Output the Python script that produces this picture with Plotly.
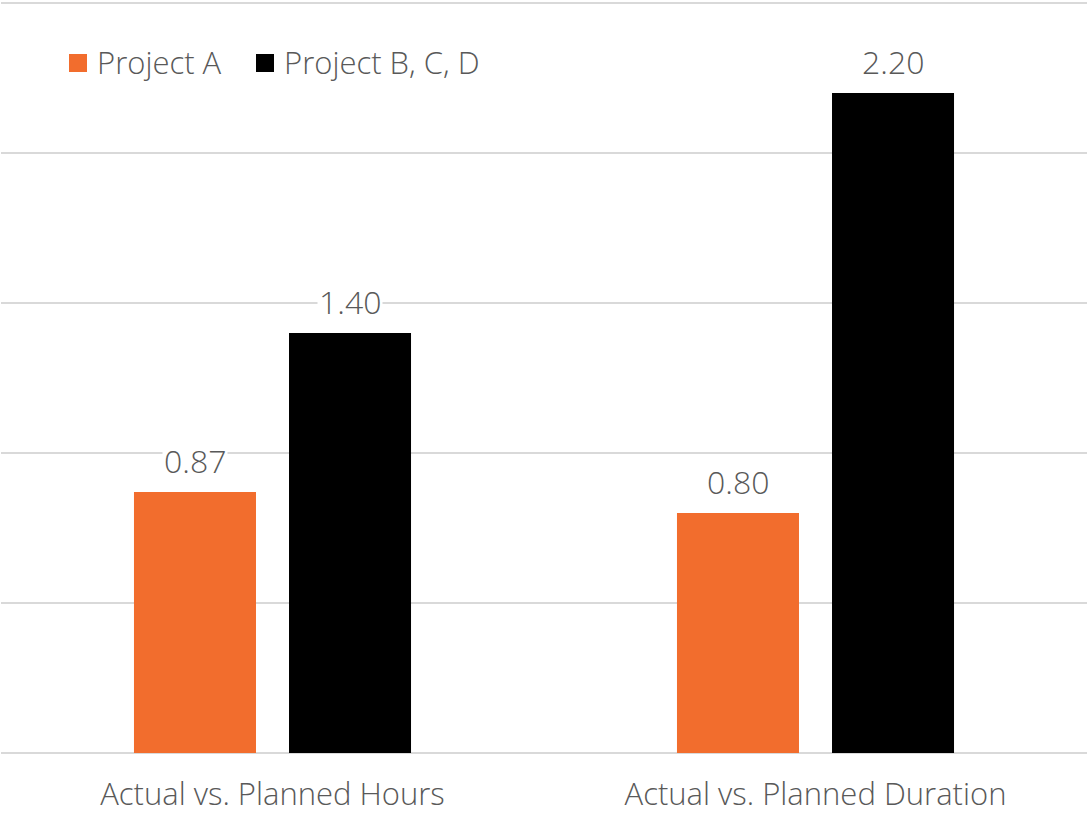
import plotly.graph_objects as go

categories = ["Actual vs. Planned Hours", "Actual vs. Planned Duration"]
series_names = ["Project A", "Project B, C, D"]
project_a = [0.87, 0.80]
project_bcd = [1.40, 2.20]
colors = ["#F26D2D", "#000000"]

FONT = "Open Sans"
TEXT_COLOR = "#595959"

W, H = 1089, 814
MARGIN = dict(l=1, r=2, t=0, b=61)
PLOT_W = W - MARGIN["l"] - MARGIN["r"]
PLOT_H = H - MARGIN["t"] - MARGIN["b"]


def px_x(px):
    return (px - MARGIN["l"]) / PLOT_W


def px_y(py):
    return (PLOT_H + MARGIN["t"] - py) / PLOT_H


fig = go.Figure()

for name, vals, col in zip(series_names, [project_a, project_bcd], colors):
    fig.add_trace(go.Bar(
        x=categories, y=vals, name=name, marker=dict(color=col, line=dict(width=0)),
        showlegend=False, hoverinfo="skip",
    ))

# value labels on a white box, offset by bar index within the group
offsets = [-0.5, 0.5]
for k, vals in enumerate([project_a, project_bcd]):
    for i, v in enumerate(vals):
        fig.add_annotation(
            x=i, y=v, xref="x", yref="y", text=f"{v:.2f}",
            xshift=offsets[k] * 155, yshift=32, yanchor="middle",
            showarrow=False, bgcolor="white",
            font=dict(family=FONT, size=32, color=TEXT_COLOR, weight=300),
        )

# legend row: 18px colour swatch followed by the series name
legend_swatch_left = [69, 256]
SWATCH = 18
LEGEND_MID = 63
for name, col, left in zip(series_names, colors, legend_swatch_left):
    fig.add_shape(
        type="rect", xref="paper", yref="paper",
        x0=px_x(left), x1=px_x(left + SWATCH),
        y0=px_y(LEGEND_MID + SWATCH / 2), y1=px_y(LEGEND_MID - SWATCH / 2),
        fillcolor=col, line=dict(width=0), layer="above",
    )
    fig.add_annotation(
        x=px_x(left + SWATCH + 8), y=px_y(LEGEND_MID - 1), xref="paper", yref="paper",
        text=name, showarrow=False, xanchor="left", yanchor="middle",
        font=dict(family=FONT, size=31, color=TEXT_COLOR, weight=300),
    )

fig.update_layout(
    width=W, height=H,
    margin=MARGIN,
    paper_bgcolor="white", plot_bgcolor="white",
    barmode="group", bargap=0.429, bargroupgap=0.213,
    font=dict(family=FONT, color=TEXT_COLOR, weight=300),
    showlegend=False,
    xaxis=dict(
        showgrid=False, zeroline=False, showline=False, ticks="",
        ticklabelstandoff=20,
        tickfont=dict(family=FONT, size=31, color=TEXT_COLOR, weight=300),
    ),
    yaxis=dict(
        range=[0, 2.51], dtick=0.5, showticklabels=False, ticks="",
        showgrid=True, gridcolor="#D9D9D9", gridwidth=2,
        zeroline=True, zerolinecolor="#D9D9D9", zerolinewidth=2, showline=False,
    ),
)

fig.write_html("out.html")
